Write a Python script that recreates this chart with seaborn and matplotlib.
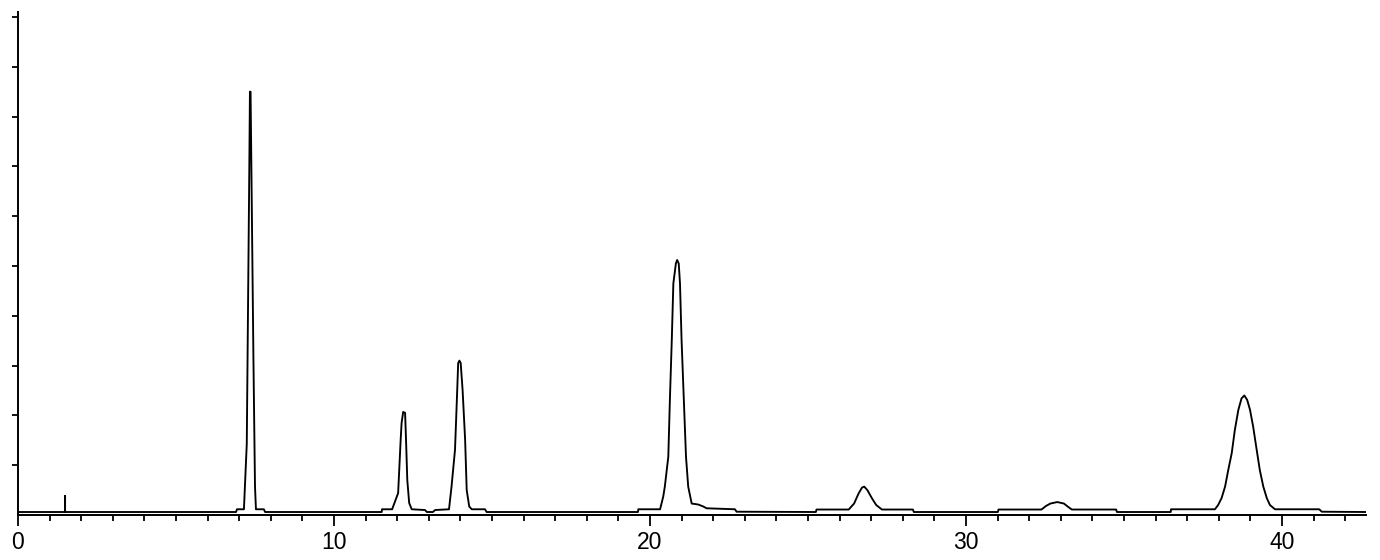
import numpy as np
import pandas as pd
import matplotlib
matplotlib.use("Agg")
import matplotlib.pyplot as plt
from matplotlib.ticker import MultipleLocator
import seaborn as sns

# chromatogram trace, vertices (time in min, signal in tick units)
time_min = [
    0.00, 1.49, 1.49, 1.49,
    # peak 1
    6.90, 6.93, 7.15, 7.24, 7.32, 7.34, 7.36, 7.45, 7.50, 7.53, 7.78, 7.82,
    # peak 2
    11.51, 11.52, 11.84, 12.03, 12.11, 12.14, 12.19, 12.25, 12.28, 12.32, 12.38, 12.46,
    12.88, 12.94, 13.13, 13.20, 13.64,
    # peak 3
    13.72, 13.83, 13.90, 13.93, 13.97, 14.01, 14.07, 14.15, 14.20, 14.28, 14.36, 14.78, 14.83,
    # peak 4
    19.62, 19.63, 20.32, 20.42, 20.47, 20.58, 20.63, 20.69, 20.74, 20.82, 20.86,
    20.91, 20.95, 21.00, 21.08, 21.14, 21.21, 21.32, 21.53, 21.69, 21.79, 22.69, 22.74,
    # peak 5
    25.25, 25.27, 26.29, 26.46, 26.60, 26.71, 26.78, 26.88, 27.03, 27.16, 27.34, 28.32, 28.35,
    # peak 6
    31.01, 31.03, 32.39, 32.53, 32.67, 32.89, 33.10, 33.24, 33.35, 34.75, 34.78,
    # peak 7
    36.48, 36.49, 37.88, 37.98, 38.09, 38.20, 38.30, 38.41, 38.51, 38.62, 38.72, 38.81,
    38.90, 38.99, 39.09, 39.20, 39.30, 39.41, 39.52, 39.62, 39.78, 41.18, 41.26,
    42.66,
]
signal = [
    0.6, 0.6, 3.8, 0.6,
    # peak 1
    0.6, 1.15, 1.15, 14.3, 69.5, 85.0, 85.0, 31.7, 5.8, 1.15, 1.15, 0.6,
    # peak 2
    0.6, 1.15, 1.15, 4.4, 15.1, 18.5, 20.7, 20.5, 15.1, 7.0, 2.4, 1.15,
    1.0, 0.6, 0.6, 1.0, 1.15,
    # peak 3
    5.7, 13.1, 25.1, 30.5, 31.0, 30.5, 25.1, 15.1, 5.0, 1.7, 1.15, 1.15, 0.6,
    # peak 4
    0.6, 1.15, 1.15, 3.7, 5.7, 11.7, 23.1, 35.1, 46.5, 50.5, 51.2,
    50.5, 46.5, 35.1, 21.7, 11.7, 5.7, 2.3, 2.1, 1.7, 1.35, 1.15, 0.66,
    # peak 5
    0.6, 1.1, 1.1, 2.3, 4.3, 5.5, 5.7, 5.0, 3.3, 2.0, 1.1, 1.1, 0.6,
    # peak 6
    0.6, 1.1, 1.1, 1.8, 2.3, 2.6, 2.3, 1.6, 1.1, 1.1, 0.6,
    # peak 7
    0.6, 1.15, 1.15, 2.0, 3.4, 5.7, 9.0, 12.4, 17.1, 21.1, 23.4, 24.0,
    23.1, 21.1, 17.7, 13.1, 9.0, 5.7, 3.4, 2.0, 1.15, 1.15, 0.66,
    0.6,
]

x_labels = [0, 10, 20, 30, 40]

df = pd.DataFrame({"time": time_min, "signal": signal})

sns.set_theme(style="ticks")
plt.rcParams['font.family'] = ['Liberation Sans Narrow', 'Liberation Sans', 'DejaVu Sans']

fig = plt.figure(figsize=(13.8, 5.6), dpi=100)
ax = fig.add_axes([18 / 1380, 45 / 560, 1348 / 1380, 503 / 560])

sns.lineplot(data=df, x="time", y="signal", ax=ax, sort=False, estimator=None,
             color="black", lw=1.35)

ax.set_xlim(0, 42.66)
ax.set_ylim(0, 101)
ax.set_xlabel("")
ax.set_ylabel("")

ax.set_xticks(x_labels)
ax.set_xticklabels([str(v) for v in x_labels])
ax.xaxis.set_minor_locator(MultipleLocator(1))
ax.set_yticks(np.arange(10, 101, 10))
ax.set_yticklabels([])

ax.tick_params(axis="x", which="major", length=7.8, width=1.3, color="black",
               labelsize=16.5, labelcolor="black", pad=3.5)
ax.tick_params(axis="x", which="minor", length=4.6, width=1.3, color="black")
ax.tick_params(axis="y", which="major", length=4.6, width=1.3, color="black")

sns.despine(ax=ax)
for side in ["left", "bottom"]:
    ax.spines[side].set_linewidth(1.4)
    ax.spines[side].set_color("black")

fig.savefig("out.png", dpi=100)
